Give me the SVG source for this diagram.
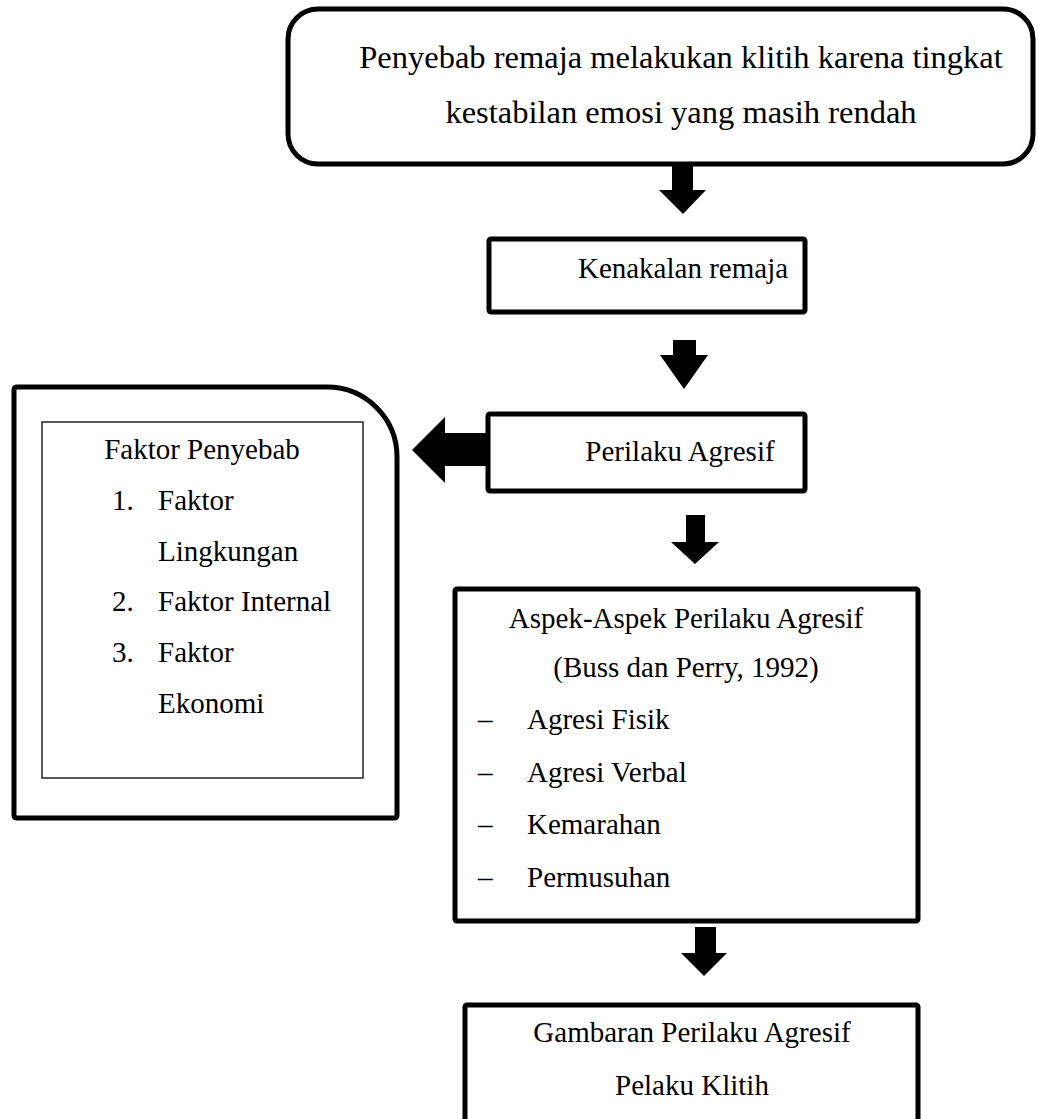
<svg xmlns="http://www.w3.org/2000/svg" width="1038" height="1119" viewBox="0 0 1038 1119">
<style>
text{font-family:"Liberation Serif","Times New Roman",serif;font-size:29px;fill:#000}
.big{font-size:32.5px}
.mid{text-anchor:middle}
.box{fill:#fff;stroke:#000;stroke-width:5;stroke-linejoin:round}
.inner{fill:none;stroke:#333;stroke-width:1.6}
.arr{fill:#000}
</style>
<rect width="1038" height="1119" fill="#fff"/>
<g id="connectors">
<polygon class="arr" points="672,165 693,165 693,190 706,190 683,214 659,190 672,190"/>
<polygon class="arr" points="673,340 696,340 696,355 708,355 684,389 660,355 673,355"/>
<polygon class="arr" points="487,433 487,466 445,466 445,483 412,450 445,417 445,433"/>
<polygon class="arr" points="686,515 705,515 705,542 719,542 695,564 671,542 686,542"/>
<polygon class="arr" points="695,927 716,927 716,953 727,953 704,976 681,953 695,953"/>
</g>
<g id="node-penyebab">
<rect class="box" x="288" y="9" width="745" height="155" rx="30"/>
<text class="big mid" x="681" y="68">Penyebab remaja melakukan klitih karena tingkat</text>
<text class="big mid" x="681" y="123">kestabilan emosi yang masih rendah</text>
</g>
<g id="node-kenakalan">
<rect class="box" x="489" y="239" width="316" height="73" rx="2"/>
<text class="mid" x="683" y="278">Kenakalan remaja</text>
</g>
<g id="node-perilaku">
<rect class="box" x="488" y="414" width="317" height="77" rx="2"/>
<text class="mid" x="680" y="461">Perilaku Agresif</text>
</g>
<g id="node-faktor">
<path class="box" d="M17,387 H327 A70,70 0 0 1 397,457 V815 Q397,818 394,818 H17 Q14,818 14,815 V390 Q14,387 17,387 Z"/>
<rect class="inner" x="42" y="422" width="321" height="356"/>
<text class="mid" x="202" y="459">Faktor Penyebab</text>
<text x="112" y="510">1.</text>
<text x="158" y="510">Faktor</text>
<text x="158" y="561">Lingkungan</text>
<text x="112" y="611">2.</text>
<text x="158" y="611">Faktor Internal</text>
<text x="112" y="662">3.</text>
<text x="158" y="662">Faktor</text>
<text x="158" y="713">Ekonomi</text>
</g>
<g id="node-aspek">
<rect class="box" x="455" y="589" width="463" height="332" rx="2"/>
<text class="mid" x="686" y="628">Aspek-Aspek Perilaku Agresif</text>
<text class="mid" x="686" y="677">(Buss dan Perry, 1992)</text>
<text x="478" y="729">–</text>
<text x="527" y="729">Agresi Fisik</text>
<text x="478" y="782">–</text>
<text x="527" y="782">Agresi Verbal</text>
<text x="478" y="834">–</text>
<text x="527" y="834">Kemarahan</text>
<text x="478" y="887">–</text>
<text x="527" y="887">Permusuhan</text>
</g>
<g id="node-gambaran">
<rect class="box" x="465" y="1005" width="453" height="130" rx="2"/>
<text class="mid" x="692" y="1042">Gambaran Perilaku Agresif</text>
<text class="mid" x="692" y="1095">Pelaku Klitih</text>
</g>
</svg>
